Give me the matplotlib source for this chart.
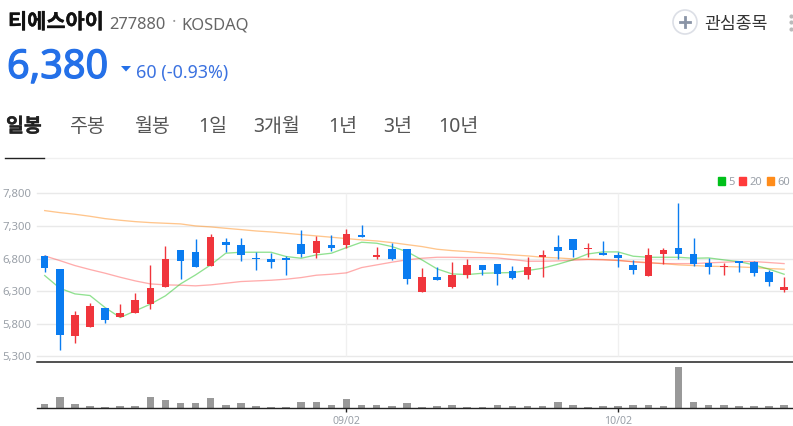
import numpy as np
import matplotlib.pyplot as plt
import matplotlib.patheffects as pe
from matplotlib.patches import Circle, Patch, Polygon

plt.rcParams['font.family'] = ['Noto Sans', 'Noto Sans CJK KR']

W, H = 793, 426

# 일봉 OHLC
opens = [6841, 6642, 5621, 5744, 6045, 5907, 5973, 6106, 6371, 6933,
         6902, 6693, 7055, 7009, 6810, 6795, 6810, 7024, 6887, 7009,
         7014, 7162, 6825, 6948, 6948, 6290, 6524, 6366, 6550, 6703,
         6723, 6611, 6550, 6825, 6984, 7101, 6953, 6887, 6851, 6703,
         6535, 6871, 6958, 6871, 6734, 6678, 6759, 6749, 6596, 6320]
closes = [6662, 5632, 5938, 6076, 5866, 5968, 6162, 6351, 6795, 6769,
          6678, 7132, 7014, 6856, 6795, 6754, 6785, 6877, 7070, 6963,
          7178, 7137, 6856, 6795, 6494, 6524, 6468, 6550, 6703, 6627,
          6570, 6509, 6672, 6851, 6917, 6938, 6968, 6856, 6815, 6621,
          6856, 6933, 6871, 6723, 6672, 6693, 6739, 6581, 6443, 6371]
highs = [6856, 6642, 5999, 6121, 6045, 6106, 6269, 6698, 6994, 6933,
         7101, 7178, 7111, 7111, 6897, 6892, 6841, 7239, 7147, 7162,
         7254, 7315, 6984, 7035, 6948, 6652, 6678, 6749, 6795, 6703,
         6723, 6688, 6831, 6933, 7162, 7101, 7040, 7070, 6907, 6780,
         6958, 6958, 7647, 7111, 6810, 6729, 6769, 6769, 6627, 6524]
lows = [6601, 5402, 5514, 5744, 5810, 5907, 5973, 6035, 6371, 6489,
        6678, 6693, 6907, 6769, 6632, 6652, 6550, 6831, 6815, 6917,
        6963, 7137, 6800, 6780, 6417, 6290, 6468, 6351, 6509, 6550,
        6397, 6494, 6494, 6519, 6795, 6831, 6825, 6856, 6678, 6570,
        6535, 6723, 6800, 6693, 6570, 6550, 6596, 6535, 6382, 6295]

ma5 = [6540, 6346, 6259, 6234, 6050, 5897, 5999, 6101, 6229, 6412,
       6550, 6703, 6882, 6897, 6897, 6897, 6831, 6805, 6856, 6882,
       6968, 7050, 7035, 6984, 6907, 6780, 6642, 6565, 6555, 6575,
       6581, 6586, 6616, 6652, 6713, 6780, 6871, 6902, 6902, 6836,
       6820, 6820, 6820, 6805, 6810, 6780, 6754, 6703, 6637, 6560]
ma20 = [6841, 6769, 6693, 6632, 6576, 6514, 6458, 6412, 6397, 6392,
        6382, 6397, 6422, 6448, 6458, 6468, 6484, 6509, 6545, 6560,
        6581, 6662, 6703, 6744, 6780, 6805, 6820, 6820, 6815, 6815,
        6810, 6785, 6759, 6759, 6764, 6774, 6785, 6780, 6774, 6749,
        6734, 6723, 6723, 6723, 6734, 6744, 6754, 6754, 6739, 6723]
ma60 = [7535, 7504, 7479, 7448, 7412, 7387, 7366, 7351, 7341, 7331,
        7300, 7285, 7264, 7244, 7223, 7208, 7188, 7167, 7147, 7127,
        7106, 7086, 7070, 7045, 7014, 6984, 6943, 6922, 6907, 6887,
        6871, 6856, 6841, 6820, 6810, 6795, 6790, 6785, 6769, 6754,
        6739, 6723, 6703, 6693, 6683, 6678, 6672, 6662, 6647, 6637]

volume = [13, 34, 13, 7, 5, 7, 7, 34, 25, 15,
          15, 30, 9, 15, 7, 4, 5, 19, 20, 10,
          28, 9, 10, 7, 15, 5, 7, 9, 5, 5,
          9, 7, 7, 7, 19, 10, 5, 7, 7, 9,
          9, 7, 124, 19, 10, 10, 7, 7, 7, 9]

price_ticks = [5300, 5800, 6300, 6800, 7300, 7800]
price_labels = ['5,300', '5,800', '6,300', '6,800', '7,300', '7,800']
date_ticks = [20, 38]
date_labels = ['09/02', '10/02']
tabs = ['일봉', '주봉', '월봉', '1일', '3개월', '1년', '3년', '10년']
tab_x = [6, 69, 134, 198, 253, 328, 383, 438]

RED = '#f0353c'
BLUE = '#0a7cf0'
GREY = '#9aa0a8'

x = np.arange(len(opens))
o = np.array(opens)
c = np.array(closes)
candle_colors = [RED if c[i] >= o[i] else BLUE for i in x]


def rect(l, t, r, b):
    return [l / W, 1 - b / H, (r - l) / W, (b - t) / H]


def thick(width, color):
    return [pe.withStroke(linewidth=width, foreground=color)]


fig = plt.figure(figsize=(W / 100, H / 100), dpi=100, facecolor='white')

vax = fig.add_axes(rect(37, 361.5, 793, 408.3))
vax.set_xlim(-0.51, 49.59)
vax.set_ylim(0, 141)
vax.bar(x, volume, width=0.5, color='#999999')
vax.set_yticks([])
vax.set_xticks(date_ticks)
vax.set_xticklabels(date_labels, fontsize=7.6, color=GREY)
vax.tick_params(axis='x', length=3, width=1, color='#222222', pad=2.5)
for s in ['top', 'left', 'right']:
    vax.spines[s].set_visible(False)
vax.spines['bottom'].set_color('#222222')
vax.spines['bottom'].set_linewidth(1)
vax.patch.set_alpha(0)

ax = fig.add_axes(rect(37, 193.3, 793, 361.5))
ax.set_xlim(-0.51, 49.59)
ax.set_ylim(5223, 7800)
for p in price_ticks:
    ax.axhline(p, color='#e9e9e9', lw=1, zorder=0, clip_on=False)
ax.vlines(date_ticks, 5300, 7800, color='#f0f0f0', lw=1, zorder=0)
ax.plot(x, ma60, color='#ff8c1a', lw=0.95, alpha=0.5, zorder=1)
ax.plot(x, ma20, color='#ff3b3b', lw=0.95, alpha=0.42, zorder=1)
ax.plot(x, ma5, color='#22c422', lw=0.95, alpha=0.5, zorder=1)
ax.vlines(x, lows, highs, color=candle_colors, lw=1.0, zorder=2)
ax.bar(x, c - o, bottom=o, width=0.5, color=candle_colors, zorder=3)
ax.set_yticks(price_ticks)
ax.set_yticklabels(price_labels, fontsize=8.2, color=GREY)
ax.tick_params(axis='y', length=0, pad=4)
ax.set_xticks([])
for s in ['top', 'left', 'right']:
    ax.spines[s].set_visible(False)
ax.spines['bottom'].set_color('#222222')
ax.spines['bottom'].set_linewidth(1.1)
ax.patch.set_alpha(0)

handles = [Patch(color='#00c01a', label='5'), Patch(color='#ff3b3b', label='20'),
           Patch(color='#ff8c1a', label='60')]
ax.legend(handles=handles, ncol=3, frameon=False, fontsize=8, labelcolor=GREY,
          handlelength=0.65, handleheight=0.65, handletextpad=0.3, columnspacing=0.4,
          borderpad=0, borderaxespad=0, loc='lower right',
          bbox_to_anchor=(790 / W, 1 - 188 / H), bbox_transform=fig.transFigure)

# 상단 헤더는 픽셀 좌표로
top = fig.add_axes([0, 0, 1, 1], zorder=-1)
top.set_xlim(0, W)
top.set_ylim(H, 0)
top.axis('off')
top.text(8, 23, '티에스아이', fontsize=15, fontweight='bold', color='#111111', va='center',
         path_effects=thick(0.25, '#111111'))
top.text(109, 25, '277880', fontsize=11.9, color='#666666', va='center')
top.text(172, 23, '·', fontsize=11.9, color='#999999', va='center')
top.text(181, 25, 'KOSDAQ', fontsize=11.9, color='#666666', va='center')
top.text(7, 68, '6,380', fontsize=28.5, fontweight='bold', color='#2470e8', va='center',
         path_effects=thick(0.9, '#2470e8'))
top.add_patch(Polygon([[121, 66], [131, 66], [126, 71.5]], color='#2470e8', lw=0))
top.text(136, 73, '60 (-0.93%)', fontsize=12.9, color='#3b72e0', va='center')
for t, tx in zip(tabs, tab_x):
    bold = t == '일봉'
    top.text(tx, 127, t, fontsize=14, fontweight='bold' if bold else 'normal',
             color='#222222' if bold else '#555555', va='center',
             path_effects=thick(0.25, '#222222') if bold else None)
top.plot([44, 793], [157.5, 157.5], color='#f0f0f0', lw=1)
top.plot([5, 44], [157.5, 157.5], color='#222222', lw=1)
top.add_patch(Circle((685, 22), 12, fc='white', ec='#dcdfe6', lw=1.2))
top.plot([680, 690], [22, 22], color='#8a94a6', lw=2)
top.plot([685, 685], [17, 27], color='#8a94a6', lw=2)
top.text(704, 24, '관심종목', fontsize=12.4, color='#333333', va='center')
top.scatter([791, 791, 791], [15.5, 22, 29], s=9, color='#bbbbbb', lw=0)

fig.savefig('out.png', dpi=100)
